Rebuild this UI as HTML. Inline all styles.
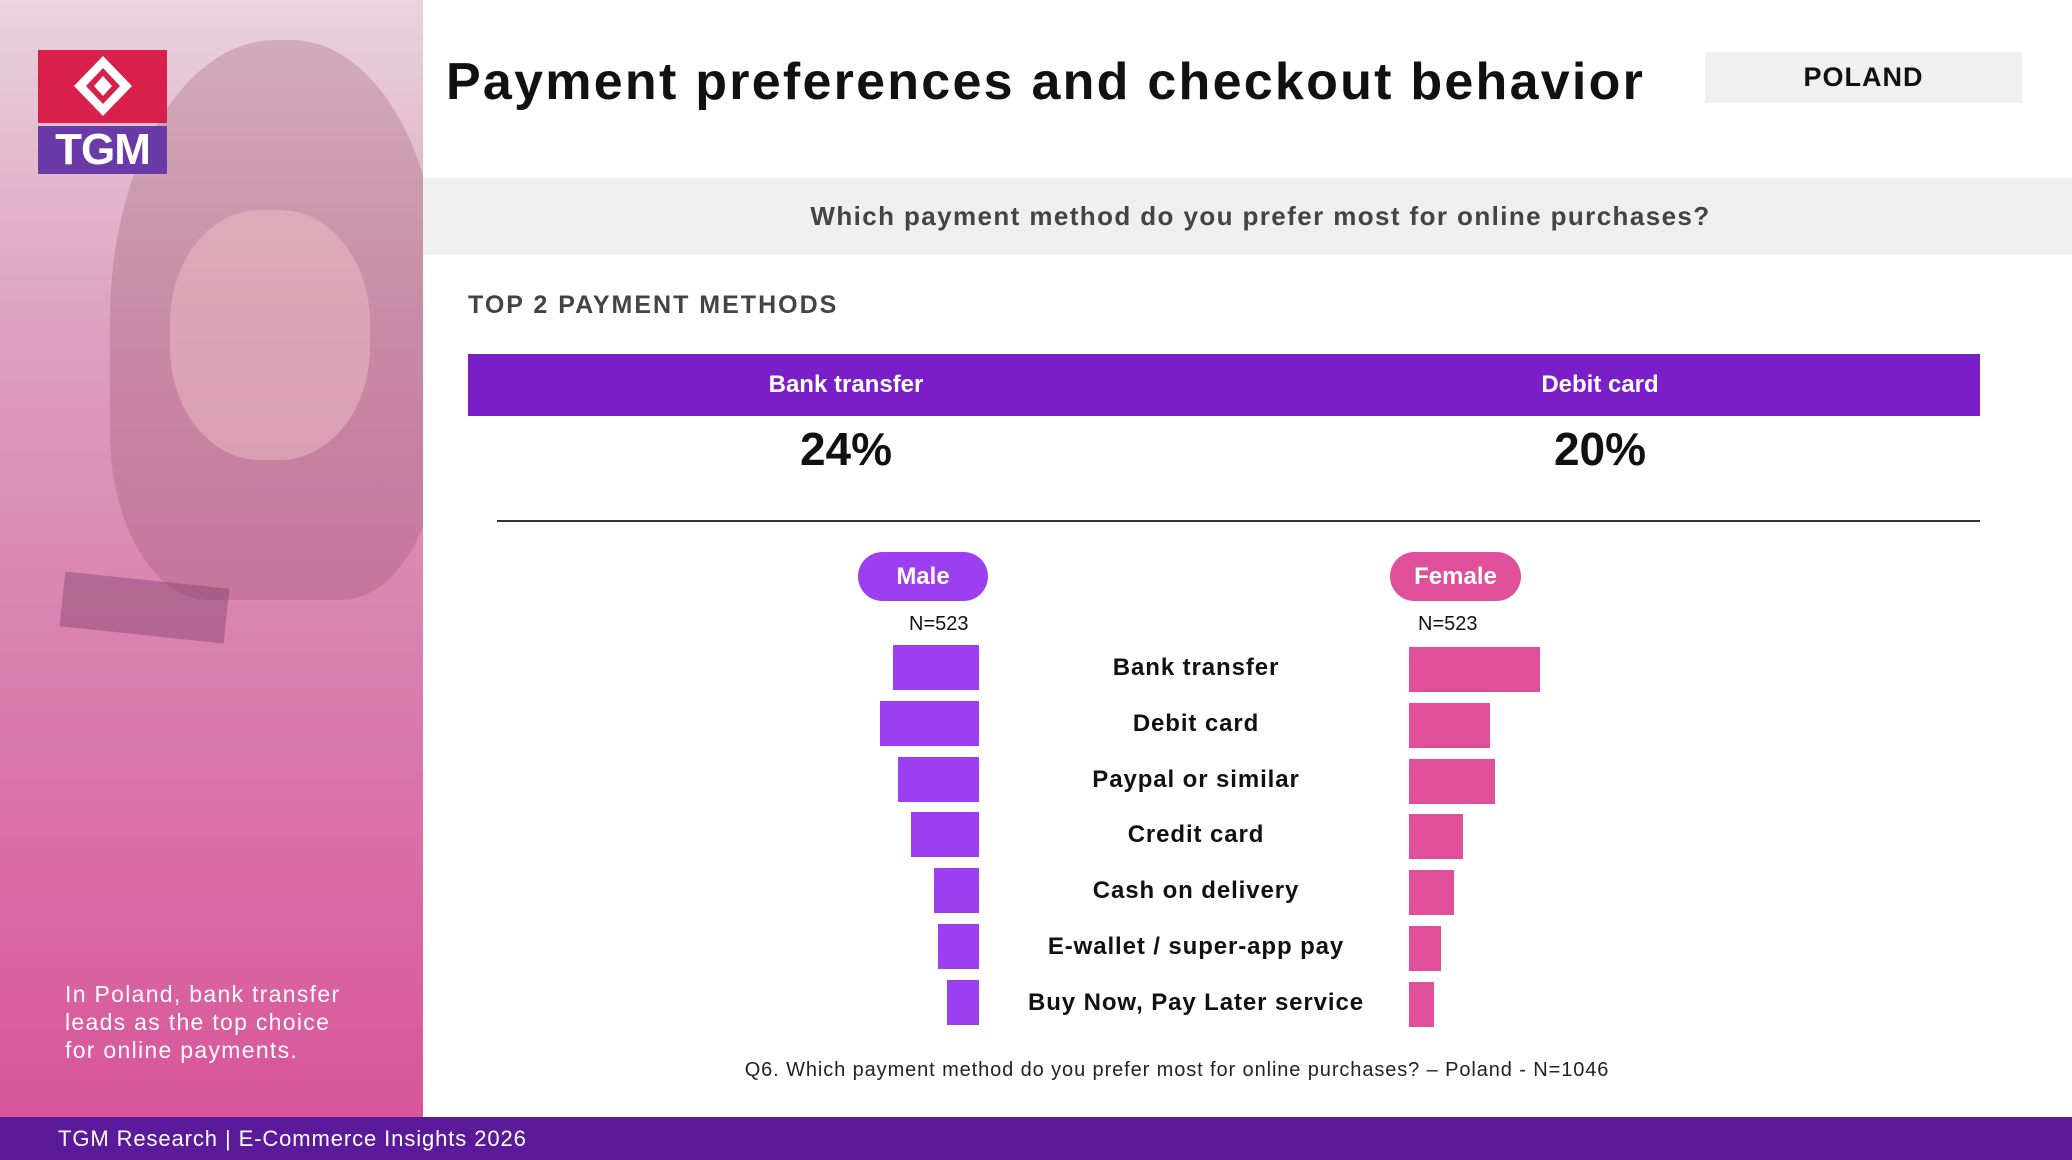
<!DOCTYPE html>
<html><head><meta charset="utf-8">
<style>
*{margin:0;padding:0;box-sizing:border-box}
body{width:2072px;height:1160px;position:relative;overflow:hidden;background:#fff;font-family:"Liberation Sans",sans-serif}
.abs{position:absolute}
</style></head><body>
<div class="abs" style="left:0;top:0;width:423px;height:1117px;background:linear-gradient(180deg,#ead3dc 0%,#dca0bd 30%,#d97fae 60%,#d9559a 100%);overflow:hidden">
  <div class="abs" style="left:110px;top:40px;width:330px;height:560px;border-radius:50% 45% 30% 30%;background:rgba(140,70,90,0.25)"></div>
  <div class="abs" style="left:170px;top:210px;width:200px;height:250px;border-radius:45%;background:rgba(240,190,200,0.5)"></div>
  <div class="abs" style="left:62px;top:580px;width:165px;height:55px;background:rgba(120,60,100,0.4);transform:rotate(6deg)"></div>
  <div class="abs" style="left:65px;top:980px;color:#fff;font-size:23px;line-height:28px;letter-spacing:1.3px">In Poland, bank transfer<br>leads as the top choice<br>for online payments.</div>
</div>
<div class="abs" style="left:38px;top:50px;width:129px;height:124px">
  <div class="abs" style="left:0;top:0;width:129px;height:73px;background:#d8204a"></div>
  <svg class="abs" style="left:34px;top:4px" width="62" height="64" viewBox="0 0 62 64"><polygon points="31,2 60,32 31,62 2,32" fill="#fff"/><polygon points="31,14 48,32 31,50 14,32" fill="#d8204a"/><polygon points="31,22 40,32 31,42 22,32" fill="#fff"/></svg>
  <div class="abs" style="left:0;top:76px;width:129px;height:48px;background:#6a3aa8;color:#fff;font-size:44px;font-weight:bold;text-align:center;line-height:48px;letter-spacing:-1px">TGM</div>
</div>
<div class="abs" style="left:446px;top:52px;font-size:52px;font-weight:bold;color:#111;letter-spacing:2.25px;white-space:nowrap">Payment preferences and checkout behavior</div>
<div class="abs" style="left:1705px;top:52px;width:317px;height:51px;background:#f0f0f0;font-size:27px;font-weight:bold;text-align:center;line-height:51px;color:#111;letter-spacing:1px">POLAND</div>
<div class="abs" style="left:423px;top:178px;width:1649px;height:77px;background:#efefef;font-size:26px;font-weight:bold;color:#444;text-align:center;line-height:77px;letter-spacing:1.4px;padding-left:26px">Which payment method do you prefer most for online purchases?</div>
<div class="abs" style="left:468px;top:291px;font-size:25px;font-weight:bold;color:#444;letter-spacing:2px">TOP 2 PAYMENT METHODS</div>
<div class="abs" style="left:468px;top:354px;width:1512px;height:62px;background:#7a1fc8"></div>
<div class="abs" style="left:646px;width:400px;top:354px;line-height:62px;text-align:center;color:#fff;font-size:24px;font-weight:bold">Bank transfer</div>
<div class="abs" style="left:1400px;width:400px;top:354px;line-height:62px;text-align:center;color:#fff;font-size:24px;font-weight:bold">Debit card</div>
<div class="abs" style="left:646px;width:400px;top:422px;text-align:center;color:#111;font-size:46px;font-weight:bold">24%</div>
<div class="abs" style="left:1400px;width:400px;top:422px;text-align:center;color:#111;font-size:46px;font-weight:bold">20%</div>
<div class="abs" style="left:497px;top:520px;width:1483px;height:2px;background:#333"></div>
<div class="abs" style="left:858px;top:552px;width:130px;height:49px;border-radius:25px;background:#9b3ff0;color:#fff;font-size:24px;font-weight:bold;text-align:center;line-height:49px">Male</div>
<div class="abs" style="left:1390px;top:552px;width:131px;height:49px;border-radius:25px;background:#e0509a;color:#fff;font-size:24px;font-weight:bold;text-align:center;line-height:49px">Female</div>
<div class="abs" style="left:909px;top:613px;font-size:20px;color:#111">N=523</div>
<div class="abs" style="left:1418px;top:613px;font-size:20px;color:#111">N=523</div>
<div id="chart" class="abs" style="left:0;top:0;width:2072px;height:1160px"></div>
<div class="abs" style="left:600px;width:1154px;top:1059px;text-align:center;font-size:20px;color:#222;letter-spacing:0.9px">Q6. Which payment method do you prefer most for online purchases? – Poland - N=1046</div>
<div class="abs" style="left:0;top:1117px;width:2072px;height:43px;background:#5b1a9a;color:#fff;font-size:22px;line-height:43px;padding-left:58px;letter-spacing:0.9px">TGM Research | E-Commerce Insights 2026</div>
<script>
const categories=["Bank transfer","Debit card","Paypal or similar","Credit card","Cash on delivery","E-wallet / super-app pay","Buy Now, Pay Later service"];
const maleValues=[19,22,18,15,10,9,7];
const femaleValues=[29,18,19,12,10,7,5.5];
const chart=document.getElementById('chart');
const pxPerPct=4.52, maleRight=979, femaleLeft=1409, top0=645, pitch=55.8, barH=45;
function xLen(v){return v*pxPerPct;}
function yRow(i){return top0+i*pitch;}
categories.forEach((c,i)=>{
  const m=document.createElement('div');
  
  
  m.className='abs';
  m.style.cssText=`left:${maleRight-xLen(maleValues[i])}px;top:${yRow(i)}px;width:${xLen(maleValues[i])}px;height:${barH}px;background:#9b3ff0`;
  chart.appendChild(m);
  const f=document.createElement('div');
  
  
  f.className='abs';
  f.style.cssText=`left:${femaleLeft}px;top:${yRow(i)+2}px;width:${xLen(femaleValues[i])}px;height:${barH}px;background:#e0509a`;
  chart.appendChild(f);
  const l=document.createElement('div');
  
  
  l.className='abs';
  l.style.cssText=`left:946px;width:500px;top:${yRow(i)}px;line-height:${barH}px;text-align:center;font-size:24px;font-weight:bold;color:#111;letter-spacing:0.9px;white-space:nowrap`;
  l.textContent=c;
  chart.appendChild(l);
});
</script>
</body></html>
